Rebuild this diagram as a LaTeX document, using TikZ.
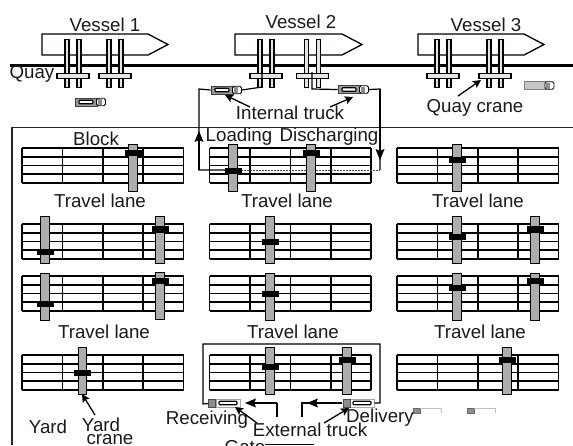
\documentclass[tikz,border=0pt]{standalone}
\usepackage{fontspec}
\setmainfont{Liberation Sans}
\usetikzlibrary{arrows.meta}
\tikzset{
 lbl/.style={font=\fontsize{18.7}{18.7}\selectfont,inner sep=0pt,text=black!90},
 gridline/.style={line width=1.6pt,black},
 hull/.style={draw,line width=1.3pt,fill=white},
 legbar/.style={draw,line width=1.3pt,fill=white!90!black,minimum width=4.2pt,minimum height=48pt,inner sep=0pt},
 deck/.style={draw,line width=1.1pt,fill=white!90!black,minimum width=32pt,minimum height=4.5pt,inner sep=0pt},
 yardbar/.style={draw,line width=1.3pt,fill=black!32,minimum width=8.5pt,minimum height=47pt,inner sep=0pt},
 trolley/.style={fill=black,minimum width=17pt,minimum height=6.5pt,inner sep=0pt},
 trailer/.style={draw=black!75,line width=.8pt,fill=black!40,minimum width=22pt,minimum height=8pt,inner sep=0pt},
 slot/.style={draw,line width=1.1pt,fill=white,rounded corners=.8pt,minimum width=14pt,minimum height=3.5pt,inner sep=0pt},
 cab/.style={draw,line width=.9pt,fill=white,rounded corners=1.5pt,minimum width=9pt,minimum height=7.5pt,inner sep=0pt},
 cabin/.style={fill=black!45,minimum width=4pt,minimum height=6pt,inner sep=0pt},
 flow/.style={line width=1.2pt},
 head/.style={line width=1.2pt,-{Stealth[length=11pt,width=9pt,inset=2pt]}},
 tip/.style={line width=1.3pt,-{Stealth[length=8pt,width=8pt,inset=1.5pt]}},
 frameline/.style={line width=1pt,black!85},
}
\newcommand{\blockat}[2]{%
 \foreach \k in {0,1,2,3,4}{\draw[gridline] (#1,#2+8.75*\k) -- (#1+161.5,#2+8.75*\k);
  \draw[gridline] (#1+40.4*\k,#2) -- (#1+40.4*\k,#2+35);}}
\newcommand{\cranebar}[3]{%
 \node[yardbar,anchor=north] at (#1,#2) {};
 \node[trolley] at (#1,#3) {};}
\newcommand{\shipat}[2]{%
 \draw[hull] (#1,34) -- (#1+#2,34) -- (#1+#2+20,44.5) -- (#1+#2,55) -- (#1,55) -- cycle;
 \foreach \i in {1,...,14}{\foreach \j in {38,44,50}{\fill[black!12] (#1+7*\i,\j) circle (.5pt);}}}
\newcommand{\quaycrane}[1]{%
 \node[legbar,anchor=north] at (#1,38.5) {};
 \node[legbar,anchor=north] at (#1+12,38.5) {};
 \node[deck] at (#1+6,76) {};}
\newcommand{\truckat}[3]{% name, x (left), y (center)
 \node[trailer] (#1) at (#2+11,#3) {};
 \node[slot] at (#2+11,#3) {};
 \node[cab] (#1c) at (#2+26,#3) {};
 \node[cabin] at (#2+24.5,#3) {};}
\begin{document}
\begin{tikzpicture}[x=1pt,y=-1pt]
\useasboundingbox (0,0) rectangle (573,445);
% yard frame
\draw[frameline] (573,127) -- (12,127);
\draw[line width=1.5pt,black!85] (12,127) -- (12,445);
% ships
\shipat{42}{106}\shipat{235}{107}\shipat{418}{106}
% quay
\draw[line width=3pt] (10,65) -- (573,65);
% quay cranes
\quaycrane{67}\quaycrane{109}\quaycrane{260}\quaycrane{306.5}\quaycrane{437}\quaycrane{489}
\coordinate (qc2) at (262,70);
\coordinate (qc3) at (312,72);
% blocks
\foreach \yy in {148,224,276,355}{\blockat{22}{\yy}\blockat{209.5}{\yy}\blockat{397}{\yy}}
% flows (behind cranes)
\coordinate (lup) at (199,170);\coordinate (ldn) at (380,170);
\coordinate (hookL) at (233,170);
% trucks
\truckat{it1}{211}{90}
\truckat{it2}{338}{89.5}
\truckat{it0}{75}{102}
\node[trailer,fill=black!22,draw=black!50,minimum width=21pt] (it3) at (534.5,85.5) {};
\node[cab] at (549.5,85.5) {};\node[cabin] at (548,85.5) {};
% internal loops
\draw[flow] (qc2) -- (262,87) -- (it1c.east);
\draw[flow] (it1.west) -- (199,89) -- (lup) -- (hookL);
\draw[head] (lup) -- (199,131);
\draw[flow] (qc3) -- (312,89) -- (it2.west);
\draw[flow] (it2c.east) -- (380,89) -- (ldn);
\draw[head] (380,89) -- (380,160);
\draw[line width=.5pt,densely dotted,black!70] (hookL) -- (ldn);
% gate trucks
\node[draw=black!35,line width=.6pt,fill=white,minimum width=24pt,minimum height=8pt,inner sep=0pt] (et1) at (228,403) {};
\node[slot,minimum width=18pt] at (228,403) {};
\node[fill=black!45,draw=black!70,line width=.4pt,minimum width=7pt,minimum height=8pt,inner sep=0pt] (et1c) at (212,403.5) {};
\node[draw=black!35,line width=.6pt,fill=white,minimum width=24pt,minimum height=8pt,inner sep=0pt] (et2) at (362,403) {};
\node[slot,minimum width=18pt] at (362,403) {};
\node[fill=black!45,draw=black!70,line width=.4pt,minimum width=7pt,minimum height=8pt,inner sep=0pt] (et2c) at (347,403.5) {};
\draw[flow] (et1c.west) -- (203,404) -- (203,344) -- (380,344) -- (380,403) -- (et2.east);
% faint trucks
\foreach \tx in {413,467}{
 \node[fill=black!45,draw=black!60,line width=.3pt,minimum width=7pt,minimum height=5pt,inner sep=0pt] at (\tx+3.5,411) {};
 \draw[black!25,line width=.6pt] (\tx+7,408.5) -- (\tx+28,408.5) -- (\tx+28,413);}
% cranes
\cranebar{133}{144}{153}
\cranebar{233}{144}{171}\cranebar{311}{144}{153}
\cranebar{457}{144}{160}
\cranebar{45}{216}{252}\cranebar{160}{216}{229.5}
\cranebar{270}{216}{242}
\cranebar{457}{216}{237}\cranebar{535}{216}{229.5}
\cranebar{45}{273}{304}\cranebar{160}{272}{281}
\cranebar{270}{273}{294}
\cranebar{457}{273}{288}\cranebar{535}{273}{281}
\cranebar{82.5}{347}{373}
\cranebar{270}{347}{367}\cranebar{347}{347}{360}
\cranebar{507}{347}{360}
% labels
\node[lbl] (v1) at (105,25) {Vessel 1};
\node[lbl] (v2) at (301,22) {Vessel 2};
\node[lbl] (v3) at (486,25) {Vessel 3};
\node[lbl] (quay) at (32,74) {Quay};
\node[lbl] (intr) at (290,113) {Internal truck};
\node[lbl] (qcr) at (475,108) {Quay crane};
\node[lbl] (block) at (96,139) {Block};
\node[lbl] (load) at (239,137) {Loading};
\node[lbl] (disch) at (329,137) {Discharging};
\foreach \lx/\ly in {100/201,287/201,478/201,104/332,293/332,480/332}{\node[lbl] at (\lx,\ly) {Travel lane};}
\node[lbl] (yard) at (48,427) {Yard};
\node[lbl] (ycr) at (101,425) {Yard};
\node[lbl] (ycr2) at (110,440) {crane};
\node[lbl] (recv) at (207,420) {Receiving};
\node[lbl] (deliv) at (380,418) {Delivery};
\node[lbl] (extr) at (310,430) {External truck};
\node[lbl] (gate) at (245,447.5) {Gate};
% pointers
\coordinate (ia) at (250,107);\coordinate (ib) at (330,107);
\draw[tip] (ia) -- (225,95);
\draw[tip] (ib) -- (353,97);
\coordinate (qa) at (458,96);
\draw[tip] (qa) -- (481,80);
\coordinate (ya) at (95,415);
\draw[tip] (ya) -- (82,394);
\coordinate (ra) at (257,423);\coordinate (da) at (324,423);
\draw[tip] (ra) -- (235,407);
\draw[tip] (da) -- (349,408);
\draw[flow] (277,417) -- (277,403);
\draw[head] (277,403) -- (245,403);
\draw[flow] (342,403) -- (302,403) -- (302,417);
\draw[head] (325,403) -- (307,403);
\draw[line width=1pt] (gate.east |- 0,444.5) -- (314,444.5);
\end{tikzpicture}
\end{document}
